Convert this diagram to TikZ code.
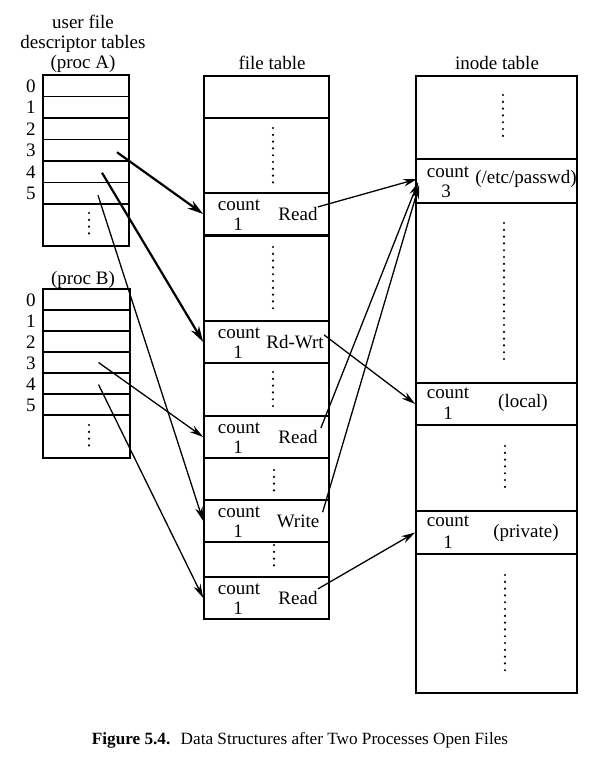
\documentclass[tikz,border=0pt]{standalone}
\usepackage{fontspec}
\setmainfont{Liberation Serif}
\usetikzlibrary{arrows.meta,fit,calc}

\tikzset{
  cell/.style={draw, line width=0.8pt, inner sep=0pt},
  lbl/.style={inner sep=0pt, font=\fontsize{9.5}{10}\selectfont},
  dotcol/.style={line width=1.2pt, line cap=round, dash pattern=on 0pt off 3.4pt},
  ptr/.style={-{Stealth[length=7pt,width=3.8pt]}, line width=0.65pt},
  thickptr/.style={-{Stealth[length=8pt,width=4.6pt]}, line width=1.1pt},
}

\begin{document}
\begin{tikzpicture}[x=0.5pt,y=-0.5pt]
        \useasboundingbox (0,0) rectangle (599,761);
        % \draw[help lines, gray!50, very thin] (0,0) grid[step=50] (599,761);

        % proc A
        \node[lbl, align=center] (ttlA) at (83,44) {user file\\descriptor tables\\(proc A)};
        \foreach \i in {0,...,5} {
          \node[cell, fit={(43,{75+21.5*\i}) (129,{96.5+21.5*\i})}] (a\i) {};
          \node[lbl] (na\i) at (31,{86+21.5*\i}) {\i};
        }
        \node[cell, fit={(43,204) (129,246)}] (adots) {};
        \draw[dotcol] (89,213) -- (89,238);

        % proc B
        \node[lbl] (ttlB) at (83,280) {(proc B)};
        \foreach \i in {0,...,5} {
          \node[cell, fit={(43,{289+21*\i}) (130,{310+21*\i})}] (b\i) {};
          \node[lbl] (nb\i) at (31,{300+21*\i}) {\i};
        }
        \node[cell, fit={(43,415) (130,458)}] (bdots) {};
        \draw[dotcol] (89,425) -- (89,450);

        % file table
        \node[lbl] (ttlF) at (272,63) {file table};
        \node[cell, fit={(204,76) (329,118)}] (f0) {};
        \node[cell, fit={(204,118) (329,193)}] (f1) {};
        \node[cell, fit={(204,236) (329,321)}] (f2) {};
        \node[cell, fit={(204,363) (329,416)}] (f3) {};
        \node[cell, fit={(204,458) (329,500)}] (f4) {};
        \node[cell, fit={(204,542) (329,577)}] (f5) {};
        \draw[dotcol] (273,128) -- (273,184);
        \draw[dotcol] (273,247) -- (273,311);
        \draw[dotcol] (273,372) -- (273,407);
        \draw[dotcol] (274,470) -- (274,493);
        \draw[dotcol] (274,545) -- (274,568);
        \foreach \id/\yt/\md/\mx in {r1/193/Read/298, rw/321/Rd-Wrt/295, r2/416/Read/298, wr/500/Write/298, r3/577/Read/298} {
          \node[cell, fit={(204,\yt) (329,{\yt+42})}] (\id) {};
          \node[lbl] (cnt\id) at (239,{\yt+12}) {count};
          \node[lbl] (one\id) at (238,{\yt+31}) {1};
          \node[lbl] (md\id) at (\mx,{\yt+21}) {\md};
        }

        % inode table
        \node[lbl] (ttlI) at (497,63) {inode table};
        \node[cell, fit={(416,76) (577,159)}] (i0) {};
        \node[cell, fit={(416,159) (577,203)}] (ipw) {};
        \node[cell, fit={(416,203) (577,383)}] (i1) {};
        \node[cell, fit={(416,383) (577,425)}] (iloc) {};
        \node[cell, fit={(416,425) (577,511)}] (i2) {};
        \node[cell, fit={(416,511) (577,554)}] (ipr) {};
        \node[cell, fit={(416,554) (577,693)}] (i3) {};
        \draw[dotcol] (503,95) -- (503,139);
        \draw[dotcol] (504,223) -- (504,363);
        \draw[dotcol] (505,446) -- (505,491);
        \draw[dotcol] (505,575) -- (505,673);
        \node[lbl] (cntpw) at (448,172) {count};
        \node[lbl] (onepw) at (446,191) {3};
        \node[lbl] (nmpw) at (526,179) {(/etc/passwd)};
        \node[lbl] (cntloc) at (448,393) {count};
        \node[lbl] (oneloc) at (448,413) {1};
        \node[lbl] (nmloc) at (523,403) {(local)};
        \node[lbl] (cntpr) at (448,521) {count};
        \node[lbl] (onepr) at (448,542) {1};
        \node[lbl] (nmpr) at (526,533) {(private)};

        % user fd -> file table
        \draw[thickptr] ($(a3.center)+(31,2)$) -- (r1.west);
        \draw[thickptr] ($(a4.center)+(16,1)$) -- (rw.west);
        \draw[ptr] ($(a5.center)+(12,2)$) -- (wr.west);
        \draw[ptr] ($(b3.center)+(12,0)$) -- (r2.west);
        \draw[ptr] ($(b4.center)+(12,1)$) -- (r3.west);

        % file table -> inode table
        \draw[ptr] (mdr1.north east) -- ($(ipw.west)+(2,-2)$);
        \draw[ptr] (mdrw.north east) -- (iloc.west);
        \draw[ptr] ($(mdr2.north east)+(3,-2)$) -- ($(ipw.west)+(3,1)$);
        \draw[ptr] ($(mdwr.north east)+(3,-2)$) -- ($(ipw.west)+(4,4)$);
        \draw[ptr] ($(mdr3.north east)+(0,-2)$) -- (ipr.west);

        \node[lbl, font=\fontsize{8.6}{10}\selectfont] (cap) at (300,740) {\textbf{Figure 5.4.}\hspace{0.6em}Data Structures after Two Processes Open Files};
      \end{tikzpicture}
\end{document}
